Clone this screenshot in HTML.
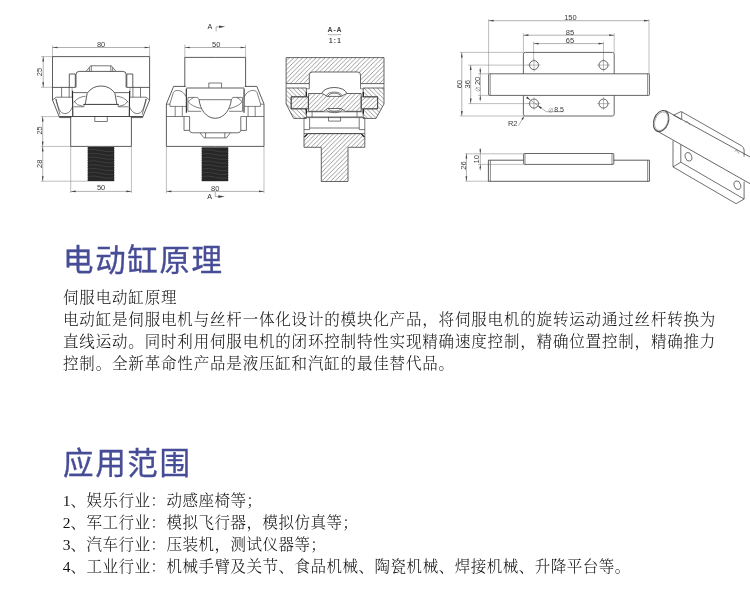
<!DOCTYPE html>
<html lang="zh-CN">
<head>
<meta charset="utf-8">
<title>电动缸原理</title>
<style>
html,body{margin:0;padding:0;background:#fff;}
body{width:750px;height:597px;position:relative;overflow:hidden;font-family:"Liberation Serif","Noto Serif CJK SC",serif;}
.h{will-change:transform;position:absolute;left:63px;margin:0;font-family:"Liberation Sans","Noto Sans CJK SC",sans-serif;font-weight:400;-webkit-text-stroke:0.35px #474c96;font-size:30.5px;line-height:40px;color:#474c96;white-space:nowrap;letter-spacing:1.65px;}
.t{will-change:transform;position:absolute;left:63.4px;margin:0;font-size:15.5px;line-height:22px;color:#111;white-space:nowrap;letter-spacing:0.83px;font-weight:300;}
.u{letter-spacing:0.51px;}
.n{display:inline-block;width:7.6px;margin-left:-0.2px;letter-spacing:0;}
#draw{will-change:transform;position:absolute;left:0;top:0;width:750px;height:230px;}
</style>
</head>
<body>
<svg id="draw" viewBox="0 0 750 230" width="750" height="230" fill="none" stroke="#555" stroke-width="0.7" font-family="Liberation Sans, sans-serif">
<!--DRAW-START-->
<defs>
<pattern id="hf" patternUnits="userSpaceOnUse" width="4.45" height="4.45"><path d="M-1,1 l2,-2 M-1,5.45 l6.45,-6.45 M3.45,5.45 l2,-2" stroke="#585858" stroke-width="0.6"/></pattern>
<pattern id="hb" patternUnits="userSpaceOnUse" width="4.45" height="4.45"><path d="M-1,3.45 l2,2 M-1,-1 l6.45,6.45 M3.45,-1 l2,2" stroke="#585858" stroke-width="0.6"/></pattern>
</defs>
<g id="view1">
<path d="M52.5,45.4 V56.6 M149.6,45.4 V56.6" stroke="#7c7c7c" stroke-width="0.5" />
<path d="M52.50,47.50 H149.60" stroke="#7c7c7c" stroke-width="0.6"/><polygon points="52.50,47.50 57.50,46.65 57.50,48.35" fill="#444" stroke="none"/><polygon points="149.60,47.50 144.60,48.35 144.60,46.65" fill="#444" stroke="none"/><text x="101.05" y="46.60" font-size="7.5" fill="#3a3a3a" stroke="none" text-anchor="middle" >80</text>
<path d="M41,56.6 H52.5 M41,87.3 H52.5 M41,116.6 H59 M41,146.4 H70.7 M41,181.2 H87.9" stroke="#7c7c7c" stroke-width="0.5" />
<path d="M43.20,56.60 V87.30" stroke="#7c7c7c" stroke-width="0.6"/><polygon points="43.20,56.60 44.05,61.60 42.35,61.60" fill="#444" stroke="none"/><polygon points="43.20,87.30 42.35,82.30 44.05,82.30" fill="#444" stroke="none"/><text x="41.80" y="71.95" font-size="7.5" fill="#3a3a3a" stroke="none" text-anchor="middle" transform="rotate(-90 41.80 71.95)">25</text>
<path d="M42.70,116.60 V146.40" stroke="#7c7c7c" stroke-width="0.6"/><polygon points="42.70,116.60 43.55,121.60 41.85,121.60" fill="#444" stroke="none"/><polygon points="42.70,146.40 41.85,141.40 43.55,141.40" fill="#444" stroke="none"/><text x="41.60" y="130.40" font-size="7.5" fill="#3a3a3a" stroke="none" text-anchor="middle" transform="rotate(-90 41.60 130.40)">25</text>
<path d="M42.70,146.40 V181.20" stroke="#7c7c7c" stroke-width="0.6"/><polygon points="42.70,146.40 43.55,151.40 41.85,151.40" fill="#444" stroke="none"/><polygon points="42.70,181.20 41.85,176.20 43.55,176.20" fill="#444" stroke="none"/><text x="41.60" y="163.80" font-size="7.5" fill="#3a3a3a" stroke="none" text-anchor="middle" transform="rotate(-90 41.60 163.80)">28</text>
<path d="M70.7,146.4 V193 M131.4,146.4 V193" stroke="#7c7c7c" stroke-width="0.5" />
<path d="M70.70,191.40 H131.40" stroke="#7c7c7c" stroke-width="0.6"/><polygon points="70.70,191.40 75.70,190.55 75.70,192.25" fill="#444" stroke="none"/><polygon points="131.40,191.40 126.40,192.25 126.40,190.55" fill="#444" stroke="none"/><text x="101.05" y="190.20" font-size="7.5" fill="#3a3a3a" stroke="none" text-anchor="middle" >50</text>
<g id="v1h"><path d="M101.05,56.6 H52.5 V100 L59.6,117.6 H71.2" stroke="#404040" stroke-width="0.85" /><path d="M52.5,87.4 H75.3 M69.3,87.4 V74 H75.3 V87.4 M76,87.4 V74.6 Q76,71.4 79.2,71.4 H101.05" stroke="#404040" stroke-width="0.85" /><path d="M86.1,71.3 L90.7,65.8 H101.05 M91.3,65.8 V71.3 M89.4,67.6 V71.3" stroke="#404040" stroke-width="0.7" /><path d="M61.6,87.3 V97.2 M69.2,87.3 V97.2" stroke="#404040" stroke-width="0.7" /><path d="M72.1,87.4 V97 " stroke="#777" stroke-width="0.6" /><path d="M72.5,90.8 L72.8,116.4" stroke="#2a2a2a" stroke-width="1.1" /><path d="M56,97.2 H72.4 M52.5,100 L56,97.2 M55.6,98.8 L60,114.6 M56.2,99 C58,108 60,113.6 64.8,113.6 C68,113.6 71,111 72.4,107" stroke="#404040" stroke-width="0.7" /><path d="M73,92.6 H87.3" stroke="#505050" stroke-width="0.85" /><path d="M85.2,104.4 L87.2,93.2 A16.9,16.9 0 0 1 101.05,86" stroke="#404040" stroke-width="0.85" /><path d="M83.3,104.4 H101.05" stroke="#3a3a3a" stroke-width="1.0" /><path d="M74,102.4 Q77.4,97 85.6,96.2 M74,101.2 Q76.6,105.6 83.2,106.4 M73.6,106.8 H84 V104.4" stroke="#404040" stroke-width="0.65" /><path d="M59.2,116.5 H101.05" stroke="#404040" stroke-width="0.95" /><path d="M94.8,116.4 V121.5 H101.05" stroke="#404040" stroke-width="0.7" /><path d="M70.7,116.6 V146.4 H101.05" stroke="#404040" stroke-width="0.85" /></g>
<use href="#v1h" transform="translate(202.10,0) scale(-1,1)"/>
<rect x="87.90" y="147.00" width="26.10" height="34.20" fill="#272727" stroke="none"/><path d="M88.50,149.80 q6.52,-1.0 12.45,0.7 t12.45,0.9" stroke="#404040" stroke-width="0.9"/><path d="M88.50,153.60 q6.52,-1.0 12.45,0.7 t12.45,0.9" stroke="#404040" stroke-width="0.9"/><path d="M88.50,157.40 q6.52,-1.0 12.45,0.7 t12.45,0.9" stroke="#404040" stroke-width="0.9"/><path d="M88.50,161.20 q6.52,-1.0 12.45,0.7 t12.45,0.9" stroke="#404040" stroke-width="0.9"/><path d="M88.50,165.00 q6.52,-1.0 12.45,0.7 t12.45,0.9" stroke="#404040" stroke-width="0.9"/><path d="M88.50,168.80 q6.52,-1.0 12.45,0.7 t12.45,0.9" stroke="#404040" stroke-width="0.9"/><path d="M88.50,172.60 q6.52,-1.0 12.45,0.7 t12.45,0.9" stroke="#404040" stroke-width="0.9"/><path d="M88.50,176.40 q6.52,-1.0 12.45,0.7 t12.45,0.9" stroke="#404040" stroke-width="0.9"/><path d="M87.90,147.00 l-0.5,1.22 l0.5,1.22 M114.00,147.00 l0.5,1.22 l-0.5,1.22 M87.90,149.44 l-0.5,1.22 l0.5,1.22 M114.00,149.44 l0.5,1.22 l-0.5,1.22 M87.90,151.89 l-0.5,1.22 l0.5,1.22 M114.00,151.89 l0.5,1.22 l-0.5,1.22 M87.90,154.33 l-0.5,1.22 l0.5,1.22 M114.00,154.33 l0.5,1.22 l-0.5,1.22 M87.90,156.77 l-0.5,1.22 l0.5,1.22 M114.00,156.77 l0.5,1.22 l-0.5,1.22 M87.90,159.21 l-0.5,1.22 l0.5,1.22 M114.00,159.21 l0.5,1.22 l-0.5,1.22 M87.90,161.66 l-0.5,1.22 l0.5,1.22 M114.00,161.66 l0.5,1.22 l-0.5,1.22 M87.90,164.10 l-0.5,1.22 l0.5,1.22 M114.00,164.10 l0.5,1.22 l-0.5,1.22 M87.90,166.54 l-0.5,1.22 l0.5,1.22 M114.00,166.54 l0.5,1.22 l-0.5,1.22 M87.90,168.99 l-0.5,1.22 l0.5,1.22 M114.00,168.99 l0.5,1.22 l-0.5,1.22 M87.90,171.43 l-0.5,1.22 l0.5,1.22 M114.00,171.43 l0.5,1.22 l-0.5,1.22 M87.90,173.87 l-0.5,1.22 l0.5,1.22 M114.00,173.87 l0.5,1.22 l-0.5,1.22 M87.90,176.31 l-0.5,1.22 l0.5,1.22 M114.00,176.31 l0.5,1.22 l-0.5,1.22 M87.90,178.76 l-0.5,1.22 l0.5,1.22 M114.00,178.76 l0.5,1.22 l-0.5,1.22 " stroke="none" fill="#333"/>
</g>
<g id="view2">
<text x="210.00" y="29.10" font-size="7.2" fill="#2c2c2c" stroke="none" text-anchor="middle" >A</text>
<path d="M216.1,31.4 V26.8 H220" stroke="#7c7c7c" stroke-width="0.6" /><polygon points="225.20,26.80 219.00,28.10 219.00,25.50" fill="#444" stroke="none"/>
<path d="M184.8,44.6 V57.4 M245.6,44.6 V57.4" stroke="#7c7c7c" stroke-width="0.5" />
<path d="M184.80,47.50 H245.60" stroke="#7c7c7c" stroke-width="0.6"/><polygon points="184.80,47.50 189.80,46.65 189.80,48.35" fill="#444" stroke="none"/><polygon points="245.60,47.50 240.60,48.35 240.60,46.65" fill="#444" stroke="none"/><text x="216.20" y="46.60" font-size="7.5" fill="#3a3a3a" stroke="none" text-anchor="middle" >50</text>
<path d="M166.4,146.5 V193.2 M264,146.5 V193.2" stroke="#7c7c7c" stroke-width="0.5" />
<path d="M166.40,191.40 H264.00" stroke="#7c7c7c" stroke-width="0.6"/><polygon points="166.40,191.40 171.40,190.55 171.40,192.25" fill="#444" stroke="none"/><polygon points="264.00,191.40 259.00,192.25 259.00,190.55" fill="#444" stroke="none"/><text x="215.20" y="190.50" font-size="7.5" fill="#3a3a3a" stroke="none" text-anchor="middle" >80</text>
<text x="209.70" y="198.80" font-size="7.2" fill="#2c2c2c" stroke="none" text-anchor="middle" >A</text>
<path d="M215.3,191.7 V196.6 H219" stroke="#7c7c7c" stroke-width="0.6" /><polygon points="224.70,196.60 218.30,197.90 218.30,195.30" fill="#444" stroke="none"/>
<g id="v2h"><path d="M215.20,57.4 H184.8 V87" stroke="#404040" stroke-width="0.85" /><path d="M208.8,87.8 V83 H215.20" stroke="#404040" stroke-width="0.7" /><path d="M185.6,86.4 H173.6 L166.4,104 V146.4 H215.20" stroke="#404040" stroke-width="0.85" /><path d="M186.4,88 H215.20" stroke="#404040" stroke-width="0.85" /><path d="M186.3,88.5 L186.4,112.8" stroke="#2a2a2a" stroke-width="1.1" /><path d="M169.8,104.2 L173.3,92.6 C174.5,89.4 182.5,89 186,96.6 M166.6,104.2 H170 V106.4 H186" stroke="#404040" stroke-width="0.65" /><path d="M175.2,106.4 V116.5 M182.3,106.4 V116.5" stroke="#404040" stroke-width="0.65" /><path d="M166.4,116.5 H189.8" stroke="#404040" stroke-width="0.7" /><path d="M187.9,97.4 H197.6 M187.9,97.4 V111.3 H201.3 M188.3,101.9 Q190.5,98.6 193.9,97.4 M188.3,101.9 Q192,106.5 201.3,108.6 M197.6,97.4 Q198.6,99 199.1,99.7" stroke="#404040" stroke-width="0.65" /><path d="M199.1,99.7 H215.20" stroke="#404040" stroke-width="0.7" /><path d="M199.1,99.7 C200,109 206,118.3 215.20,118.3" stroke="#404040" stroke-width="0.85" /><path d="M184,116.8 V130.4 H189.6 V116.8 M189.6,130.4 Q190,132.8 192.4,132.8 H215.20" stroke="#404040" stroke-width="0.75" /><path d="M200,132.8 L204,137.9 H215.20 M205.6,132.8 V137.9" stroke="#404040" stroke-width="0.7" /></g>
<use href="#v2h" transform="translate(430.40,0) scale(-1,1)"/>
<rect x="201.90" y="147.30" width="26.10" height="33.90" fill="#272727" stroke="none"/><path d="M202.50,150.07 q6.52,-1.0 12.45,0.7 t12.45,0.9" stroke="#404040" stroke-width="0.9"/><path d="M202.50,153.83 q6.52,-1.0 12.45,0.7 t12.45,0.9" stroke="#404040" stroke-width="0.9"/><path d="M202.50,157.60 q6.52,-1.0 12.45,0.7 t12.45,0.9" stroke="#404040" stroke-width="0.9"/><path d="M202.50,161.37 q6.52,-1.0 12.45,0.7 t12.45,0.9" stroke="#404040" stroke-width="0.9"/><path d="M202.50,165.13 q6.52,-1.0 12.45,0.7 t12.45,0.9" stroke="#404040" stroke-width="0.9"/><path d="M202.50,168.90 q6.52,-1.0 12.45,0.7 t12.45,0.9" stroke="#404040" stroke-width="0.9"/><path d="M202.50,172.67 q6.52,-1.0 12.45,0.7 t12.45,0.9" stroke="#404040" stroke-width="0.9"/><path d="M202.50,176.43 q6.52,-1.0 12.45,0.7 t12.45,0.9" stroke="#404040" stroke-width="0.9"/><path d="M201.90,147.30 l-0.5,1.21 l0.5,1.21 M228.00,147.30 l0.5,1.21 l-0.5,1.21 M201.90,149.72 l-0.5,1.21 l0.5,1.21 M228.00,149.72 l0.5,1.21 l-0.5,1.21 M201.90,152.14 l-0.5,1.21 l0.5,1.21 M228.00,152.14 l0.5,1.21 l-0.5,1.21 M201.90,154.56 l-0.5,1.21 l0.5,1.21 M228.00,154.56 l0.5,1.21 l-0.5,1.21 M201.90,156.99 l-0.5,1.21 l0.5,1.21 M228.00,156.99 l0.5,1.21 l-0.5,1.21 M201.90,159.41 l-0.5,1.21 l0.5,1.21 M228.00,159.41 l0.5,1.21 l-0.5,1.21 M201.90,161.83 l-0.5,1.21 l0.5,1.21 M228.00,161.83 l0.5,1.21 l-0.5,1.21 M201.90,164.25 l-0.5,1.21 l0.5,1.21 M228.00,164.25 l0.5,1.21 l-0.5,1.21 M201.90,166.67 l-0.5,1.21 l0.5,1.21 M228.00,166.67 l0.5,1.21 l-0.5,1.21 M201.90,169.09 l-0.5,1.21 l0.5,1.21 M228.00,169.09 l0.5,1.21 l-0.5,1.21 M201.90,171.51 l-0.5,1.21 l0.5,1.21 M228.00,171.51 l0.5,1.21 l-0.5,1.21 M201.90,173.94 l-0.5,1.21 l0.5,1.21 M228.00,173.94 l0.5,1.21 l-0.5,1.21 M201.90,176.36 l-0.5,1.21 l0.5,1.21 M228.00,176.36 l0.5,1.21 l-0.5,1.21 M201.90,178.78 l-0.5,1.21 l0.5,1.21 M228.00,178.78 l0.5,1.21 l-0.5,1.21 " stroke="none" fill="#333"/>
</g>
<g id="view3">
<text x="335.00" y="31.80" font-size="6.9" fill="#444" stroke="none" text-anchor="middle" font-weight="bold" letter-spacing="0.9">A-A</text>
<path d="M327.8,34.7 H341.2" stroke="#aaa" stroke-width="0.9" />
<text x="334.80" y="42.70" font-size="6.4" fill="#444" stroke="none" text-anchor="middle" font-weight="bold" letter-spacing="-0.25">1 : 1</text>
<path d="M286.1,57.6 H384 V83.6 H360.5 V75 Q360.5,72 357.5,72 H312.3 Q309.3,72 309.3,75 V83.6 H286.1 Z" fill="url(#hf)" stroke="#404040" stroke-width="0.8"/>
<path d="M286.1,83.6 V88 M384,83.6 V88 M309.3,83.6 V88.8 M360.5,83.6 V88.8" stroke="#404040" stroke-width="0.7" />
<path d="M286.1,88 H306.4 V96.8 H291.2 V108.8 H306.4 V118.4 H293.6 L286.1,104 Z" fill="url(#hb)" stroke="#404040" stroke-width="0.8"/>
<path d="M384,88 H363.2 V96.8 H377.6 V108.8 H363.2 V118.4 H376 L384,104 Z" fill="url(#hb)" stroke="#404040" stroke-width="0.8"/>
<path d="M291.2,96.8 H308.4 V108.8 H291.2 Z M361.2,96.8 H377.6 V108.8 H361.2 Z" fill="url(#hf)" stroke="#404040" stroke-width="0.8"/>
<path d="M308.4,93.5 H321.7 Q325,94.6 327,96.4 H341.4 Q344,94.6 346.9,93.5 H361.2 V111.3 H345.3 Q343,110 341,108.5 H327.6 Q325.6,110 323.5,111.3 H308.4 Z" fill="url(#hf)" stroke="#404040" stroke-width="0.8"/>
<path d="M321.7,93.5 A12.8,7.3 0 0 1 346.9,93.5" stroke="#404040" stroke-width="0.85" />
<path d="M326.4,96 A8.1,5 0 0 1 342.2,96 M328,96.4 A6.5,3.8 0 0 1 340.8,96.4" stroke="#404040" stroke-width="0.7" />
<path d="M326.4,109.6 A8.2,3.9 0 0 0 342.4,109.6 M328.4,108.9 A6.2,2.7 0 0 0 340.6,108.9" stroke="#404040" stroke-width="0.7" />
<path d="M306.3,92 V96.6 M306.3,109 V113.7 M363.3,92 V96.6 M363.3,109 V113.7" stroke="#222" stroke-width="1.3" />
<path d="M306.4,88.8 H309.3 M360.5,88.8 H363.2" stroke="#404040" stroke-width="0.6" />
<path d="M307,111.8 H362.4 M307,116.9 H362.4 M312.1,111.8 V116.9 M357,111.8 V116.9" stroke="#404040" stroke-width="0.65" />
<path d="M328.5,116.9 V121.1 H340.6 V116.9" stroke="#404040" stroke-width="0.7" />
<path d="M304,117.6 V133.6 M364.8,117.6 V133.6 M304,117.6 H364.8 M309.6,117.6 V129.6 M359.2,117.6 V129.6 M304,129.6 H309.6 M359.2,129.6 H364.8 M309.6,128 H359.2" stroke="#404040" stroke-width="0.7" />
<path d="M304,137.4 L307.8,133.6 H361 L364.8,137.4 V147.3 H348 V181.5 H321.3 V147.3 H304 Z" fill="url(#hf)" stroke="#404040" stroke-width="0.8"/>
<path d="M304,133.6 V137.4 M364.8,133.6 V137.4 M304,133.6 H364.8" stroke="#404040" stroke-width="0.7" />
<path d="M304.4,137 L307.4,134 M364.4,137 L361.4,134" stroke="#222" stroke-width="1.1" />
</g>
<g id="view4">
<path d="M488.6,19.2 V73.8 M649,19.2 V73.8" stroke="#7c7c7c" stroke-width="0.5" />
<path d="M488.60,20.70 H649.00" stroke="#7c7c7c" stroke-width="0.6"/><polygon points="488.60,20.70 493.60,19.85 493.60,21.55" fill="#444" stroke="none"/><polygon points="649.00,20.70 644.00,21.55 644.00,19.85" fill="#444" stroke="none"/><text x="570.40" y="20.10" font-size="7.5" fill="#3a3a3a" stroke="none" text-anchor="middle" >150</text>
<path d="M523.4,33.2 V52.4 M614.2,33.2 V52.4" stroke="#7c7c7c" stroke-width="0.5" />
<path d="M523.40,35.20 H614.20" stroke="#7c7c7c" stroke-width="0.6"/><polygon points="523.40,35.20 528.40,34.35 528.40,36.05" fill="#444" stroke="none"/><polygon points="614.20,35.20 609.20,36.05 609.20,34.35" fill="#444" stroke="none"/><text x="570.00" y="34.90" font-size="7.5" fill="#3a3a3a" stroke="none" text-anchor="middle" >85</text>
<path d="M533.6,41.6 V60 M603.5,41.6 V60" stroke="#7c7c7c" stroke-width="0.5" />
<path d="M533.60,43.60 H603.50" stroke="#7c7c7c" stroke-width="0.6"/><polygon points="533.60,43.60 538.60,42.75 538.60,44.45" fill="#444" stroke="none"/><polygon points="603.50,43.60 598.50,44.45 598.50,42.75" fill="#444" stroke="none"/><text x="570.00" y="43.40" font-size="7.5" fill="#3a3a3a" stroke="none" text-anchor="middle" >65</text>
<rect x="523.4" y="52.4" width="90.8" height="63.6" rx="1.8" stroke="#404040" stroke-width="0.8"/>
<rect x="488.6" y="73.8" width="160.8" height="21.6" rx="0.6" fill="#fff" stroke="#404040" stroke-width="0.8"/>
<path d="M490.2,73.8 V95.4 M647.6,73.8 V95.4" stroke="#404040" stroke-width="0.6" />
<circle cx="534.0" cy="65.1" r="4.5" stroke="#404040" stroke-width="0.8"/>
<path d="M527.5,65.1 h13 M534.0,58.6 v13" stroke="#777" stroke-width="0.5" />
<circle cx="603.5" cy="65.1" r="4.5" stroke="#404040" stroke-width="0.8"/>
<path d="M597.0,65.1 h13 M603.5,58.6 v13" stroke="#777" stroke-width="0.5" />
<circle cx="534.0" cy="103.6" r="4.5" stroke="#404040" stroke-width="0.8"/>
<path d="M527.5,103.6 h13 M534.0,97.1 v13" stroke="#777" stroke-width="0.5" />
<circle cx="603.5" cy="103.6" r="4.5" stroke="#404040" stroke-width="0.8"/>
<path d="M597.0,103.6 h13 M603.5,97.1 v13" stroke="#777" stroke-width="0.5" />
<path d="M459.8,52.4 H523.4 M459.8,116 H523.4 M468.2,65.1 H529 M468.2,103.6 H529 M478,73.8 H488.6 M478,95.4 H488.6" stroke="#7c7c7c" stroke-width="0.5" />
<path d="M461.80,52.40 V116.00" stroke="#7c7c7c" stroke-width="0.6"/><polygon points="461.80,52.40 462.65,57.40 460.95,57.40" fill="#444" stroke="none"/><polygon points="461.80,116.00 460.95,111.00 462.65,111.00" fill="#444" stroke="none"/><text x="462.00" y="84.20" font-size="7.5" fill="#3a3a3a" stroke="none" text-anchor="middle" transform="rotate(-90 462.00 84.20)">60</text>
<path d="M470.70,65.10 V103.60" stroke="#7c7c7c" stroke-width="0.6"/><polygon points="470.70,65.10 471.55,70.10 469.85,70.10" fill="#444" stroke="none"/><polygon points="470.70,103.60 469.85,98.60 471.55,98.60" fill="#444" stroke="none"/><text x="470.20" y="84.20" font-size="7.5" fill="#3a3a3a" stroke="none" text-anchor="middle" transform="rotate(-90 470.20 84.20)">36</text>
<path d="M480.3,67.5 V101.3" stroke="#7c7c7c" stroke-width="0.6" /><polygon points="480.30,73.80 479.45,69.60 481.15,69.60" fill="#444" stroke="none"/><polygon points="480.30,95.40 481.15,99.60 479.45,99.60" fill="#444" stroke="none"/>
<text x="479.6" y="84.2" font-size="7.5" fill="#3a3a3a" stroke="none" text-anchor="middle" transform="rotate(-90 479.6 84.2)"><tspan font-size="5.6" fill="#777">∅</tspan><tspan dx="0.6">20</tspan></text>
<path d="M526.3,97 L546.2,111.7 H563.5" stroke="#7c7c7c" stroke-width="0.6" />
<polygon points="530.40,100.10 526.11,98.17 527.30,96.56" fill="#444" stroke="none"/><polygon points="537.60,105.40 541.89,107.33 540.70,108.94" fill="#444" stroke="none"/>
<text x="547.6" y="111.5" font-size="7.0" fill="#3a3a3a" stroke="none"><tspan font-size="5.6" fill="#777">∅</tspan><tspan dx="0.6">8.5</tspan></text>
<text x="512.70" y="125.70" font-size="7.5" fill="#3a3a3a" stroke="none" text-anchor="middle" >R2</text>
<path d="M518.5,125.6 L524,116.4" stroke="#7c7c7c" stroke-width="0.55" /><polygon points="524.20,116.00 522.97,119.91 521.41,119.01" fill="#444" stroke="none"/>
</g>
<g id="view5">
<path d="M465.4,153.8 H523.4 M465.4,181.2 H488.6 M478,164.4 H523.4" stroke="#7c7c7c" stroke-width="0.5" />
<path d="M466.40,153.60 V181.30" stroke="#7c7c7c" stroke-width="0.6"/><polygon points="466.40,153.60 467.25,158.60 465.55,158.60" fill="#444" stroke="none"/><polygon points="466.40,181.30 465.55,176.30 467.25,176.30" fill="#444" stroke="none"/><text x="466.00" y="165.60" font-size="7.5" fill="#3a3a3a" stroke="none" text-anchor="middle" transform="rotate(-90 466.00 165.60)">26</text>
<path d="M480.3,148 V170.7" stroke="#7c7c7c" stroke-width="0.6" /><polygon points="480.30,153.60 479.45,149.40 481.15,149.40" fill="#444" stroke="none"/><polygon points="480.30,164.40 481.15,168.60 479.45,168.60" fill="#444" stroke="none"/>
<text x="479.4" y="159.3" font-size="7.5" fill="#3a3a3a" stroke="none" text-anchor="middle" transform="rotate(-90 479.4 159.3)">10</text>
<path d="M523.4,160.2 H488.4 V181.3 H649.4 V160.2 H613.8" stroke="#404040" stroke-width="0.85" />
<path d="M490.4,160.2 V181.3 M647.6,160.2 V181.3" stroke="#404040" stroke-width="0.6" />
<rect x="523.6" y="153.5" width="90.2" height="10.9" rx="0.8" stroke="#404040" stroke-width="0.8"/>
<path d="M525,153.8 V164.4 M612,153.8 V164.4" stroke="#404040" stroke-width="0.6" />
</g>
<g id="view6">
<path d="M673.6,115.2 L681.2,111.5 L741.5,145.8 Q744.1,147.4 744.1,150 V156.5" stroke="#404040" stroke-width="0.75" />
<path d="M673.6,115.2 L681,119.4 M681.7,112 V119.2" stroke="#404040" stroke-width="0.7" />
<path d="M744.1,181.6 V199 L736.1,203.7 L673,166.9 V140.7 M680.8,144.7 V162.2 L744.1,199 M673,166.9 L680.8,162.2" stroke="#404040" stroke-width="0.75" />
<path d="M665.3,110.4 L750,156.9 M657.1,131 L750,183.7" stroke="#404040" stroke-width="0.8" />
<ellipse cx="661.1" cy="121.1" rx="7.3" ry="10.9" transform="rotate(21 661.1 121.1)" stroke="#404040" stroke-width="0.9"/>
<ellipse cx="661.3" cy="121.2" rx="6.3" ry="9.7" transform="rotate(21 661.3 121.2)" stroke="#7a7a7a" stroke-width="0.6"/>
<ellipse cx="688.5" cy="156.8" rx="3.2" ry="4.4" transform="rotate(-18 688.5 156.8)" stroke="#404040" stroke-width="0.7"/>
<ellipse cx="737.4" cy="185.2" rx="3.2" ry="4.4" transform="rotate(-18 737.4 185.2)" stroke="#404040" stroke-width="0.7"/>
<path d="M685.4,122.6 Q687.6,119.8 690,125.2 M734.6,151.4 Q736.8,148.8 739,153.6" stroke="#6a6a6a" stroke-width="0.6" />
</g>
<!--DRAW-END-->
</svg>
<h1 class="h" style="top:239.5px">电动缸原理</h1>
<p class="t" style="top:287px">伺服电动缸原理</p>
<p class="t" style="top:309px">电动缸是伺服电机与丝杆一体化设计的模块化产品，将伺服电机的旋转运动通过丝杆转换为</p>
<p class="t" style="top:331px">直线运动。同时利用伺服电机的闭环控制特性实现精确速度控制，精确位置控制，精确推力</p>
<p class="t" style="top:353px">控制。全新革命性产品是液压缸和汽缸的最佳替代品。</p>
<h1 class="h" style="top:442.5px">应用范围</h1>
<p class="t u" style="top:490px"><span class="n">1</span>、娱乐行业：动感座椅等；</p>
<p class="t u" style="top:512px"><span class="n">2</span>、军工行业：模拟飞行器，模拟仿真等；</p>
<p class="t u" style="top:534px"><span class="n">3</span>、汽车行业：压装机，测试仪器等；</p>
<p class="t u" style="top:556px"><span class="n">4</span>、工业行业：机械手臂及关节、食品机械、陶瓷机械、焊接机械、升降平台等。</p>
</body>
</html>
